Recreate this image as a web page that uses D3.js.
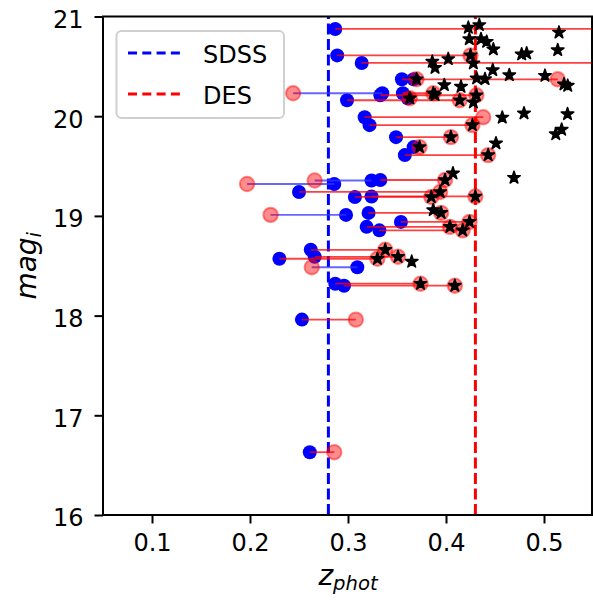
<!DOCTYPE html>
<html><head><meta charset="utf-8">
<script src="https://cdn.jsdelivr.net/npm/d3@7"></script>
<style>body{margin:0;background:#fff}svg{display:block}text{font-family:"DejaVu Sans",sans-serif;fill:#000}</style>
</head><body><svg id="c" width="593" height="602"></svg>
<script>
// Galaxy pairs: magnitude, SDSS photo-z, DES photo-z, whether a star marks the DES point
const pairMag = [20.875,20.61,20.534,20.37,20.37,20.23,20.23,20.18,20.16,20.21,19.99,19.91,19.79,19.69,19.61,19.355,19.36,19.32,19.24,19.19,19.195,19.01,19.03,18.94,18.89,18.855,18.66,18.57,18.59,18.485,18.32,18.30,17.96,16.63];
const zSDSS  = [0.287,0.289,0.314,0.355,0.367,0.335,0.356,0.361,0.299,0.333,0.317,0.322,0.349,0.367,0.358,0.324,0.333,0.286,0.250,0.307,0.324,0.298,0.321,0.354,0.319,0.332,0.262,0.230,0.266,0.3095,0.287,0.296,0.253,0.261];
const zDES   = [0.62,0.425,0.60,0.514,0.370,0.244,0.387,0.363,0.414,0.431,0.438,0.427,0.405,0.373,0.443,0.266,0.399,0.197,0.394,0.385,0.430,0.221,0.395,0.424,0.404,0.417,0.338,0.330,0.351,0.263,0.374,0.409,0.308,0.286];
const hasStar= [0,1,0,0,1,0,1,1,1,1,0,1,1,1,1,0,1,0,1,1,1,0,1,1,1,1,1,1,1,0,1,1,0,0];
// Extra star objects
const starZ   = [0.4228,0.434,0.5153,0.4238,0.4357,0.4415,0.4483,0.4772,0.4823,0.514,0.4279,0.386,0.4023,0.3888,0.4477,0.4646,0.501,0.4313,0.4398,0.5204,0.5242,0.3983,0.4153,0.3888,0.4279,0.4574,0.4796,0.524,0.518,0.512,0.451,0.4071,0.4694,0.387,0.365];
const starMag = [20.888,20.915,20.84,20.774,20.774,20.747,20.671,20.621,20.631,20.664,20.531,20.547,20.574,20.486,20.463,20.413,20.406,20.38,20.373,20.32,20.306,20.313,20.296,20.213,20.139,19.987,20.029,20.022,19.865,19.82,19.728,19.427,19.383,19.059,18.541];
// Reference lines and axes
const refNames = ["SDSS","DES"];
const refZ = [0.28,0.43];
const refColors = ["#0000ff","#ff0000"];
const xTicks = [0.1,0.2,0.3,0.4,0.5];
const yTicks = [16,17,18,19,20,21];
const xDomain = [0.05,0.55];
const yDomain = [16,21];

const svg = d3.select("#c");
const L=103, R=593, T=16.5, B=515;
const x = d3.scaleLinear(xDomain,[L,R]);
const y = d3.scaleLinear(yDomain,[B,T]);

svg.append("defs").append("clipPath").attr("id","clip")
  .append("rect").attr("x",L).attr("y",T).attr("width",R-L).attr("height",B-T);
const g = svg.append("g").attr("clip-path","url(#clip)");

const pairs = pairMag.map((m,i)=>({m, s:zSDSS[i], d:zDES[i], st:hasStar[i]}));

// reference dashed lines
refZ.forEach((z,i)=>{
  g.append("line").attr("x1",x(z)).attr("x2",x(z)).attr("y1",B).attr("y2",T)
   .attr("stroke",refColors[i]).attr("stroke-width",3).attr("stroke-dasharray","11,4.5");
});

// blue SDSS dots
g.selectAll(".b").data(pairs).join("circle").attr("class","b")
  .attr("cx",d=>x(d.s)).attr("cy",d=>y(d.m)).attr("r",7).attr("fill","#0000ff");

// connecting lines
g.selectAll(".l").data(pairs).join("line").attr("class","l")
  .attr("x1",d=>x(d.s)).attr("x2",d=>x(d.d)).attr("y1",d=>y(d.m)).attr("y2",d=>y(d.m))
  .attr("stroke",d=>d.d>d.s?"#ff0000":"#3333ff").attr("stroke-opacity",0.75).attr("stroke-width",1.8);

// red DES circles
g.selectAll(".r").data(pairs).join("circle").attr("class","r")
  .attr("cx",d=>x(d.d)).attr("cy",d=>y(d.m)).attr("r",7.2)
  .attr("fill","#ff0000").attr("fill-opacity",0.45)
  .attr("stroke","#ff0000").attr("stroke-opacity",0.45).attr("stroke-width",2);

// stars
const starSym = d3.symbol(d3.symbolStar, 48);
const allStars = pairs.filter(d=>d.st).map(d=>({z:d.d,m:d.m}))
  .concat(starZ.map((z,i)=>({z, m:starMag[i]})));
g.selectAll(".s").data(allStars).join("path").attr("class","s")
  .attr("d",starSym).attr("transform",d=>`translate(${x(d.z)},${y(d.m)})`)
  .attr("fill","#000").attr("stroke","#000").attr("stroke-width",1.6).attr("stroke-linejoin","round");

// axes
const fs = 24;
const xa = svg.append("g").attr("transform",`translate(0,${B})`)
  .call(d3.axisBottom(x).tickValues(xTicks).tickFormat(d3.format(".1f")).tickSize(8.5).tickPadding(10));
const ya = svg.append("g").attr("transform",`translate(${L},0)`)
  .call(d3.axisLeft(y).tickValues(yTicks).tickFormat(d3.format("d")).tickSize(8.5).tickPadding(11));
[xa,ya].forEach(a=>{
  a.select(".domain").remove();
  a.selectAll(".tick line").attr("stroke","#000").attr("stroke-width",2);
  a.selectAll("text").attr("font-size",fs).attr("font-family","DejaVu Sans");
});
ya.selectAll("text").attr("dy","0.45em");

// spines
svg.append("rect").attr("x",L).attr("y",T).attr("width",R-L-1).attr("height",B-T)
  .attr("fill","none").attr("stroke","#000").attr("stroke-width",2);

// axis labels
const xl = svg.append("text").attr("x",(L+R)/2).attr("y",585).attr("text-anchor","middle")
  .attr("font-size",28).attr("font-style","italic");
xl.append("tspan").text("z");
xl.append("tspan").attr("font-size",19.6).attr("dy",5).text("phot");
const yl = svg.append("text").attr("transform",`translate(36,${(T+B)/2}) rotate(-90)`)
  .attr("text-anchor","middle").attr("font-size",28).attr("font-style","italic");
yl.append("tspan").text("mag");
yl.append("tspan").attr("font-size",19.6).attr("dy",5).text("i");

// legend
const lg = svg.append("g");
lg.append("rect").attr("x",116.5).attr("y",31).attr("width",167.5).attr("height",87).attr("rx",5)
  .attr("fill","#fff").attr("fill-opacity",0.8).attr("stroke","#d0d0d0").attr("stroke-width",2);
refNames.forEach((n,i)=>{
  const yy = 53 + i*41;
  lg.append("line").attr("x1",128).attr("x2",180).attr("y1",yy).attr("y2",yy)
    .attr("stroke",refColors[i]).attr("stroke-width",3).attr("stroke-dasharray","9,5.3");
  lg.append("text").attr("x",203).attr("y",yy+9.5).attr("font-size",fs).text(n);
});
</script></body></html>
